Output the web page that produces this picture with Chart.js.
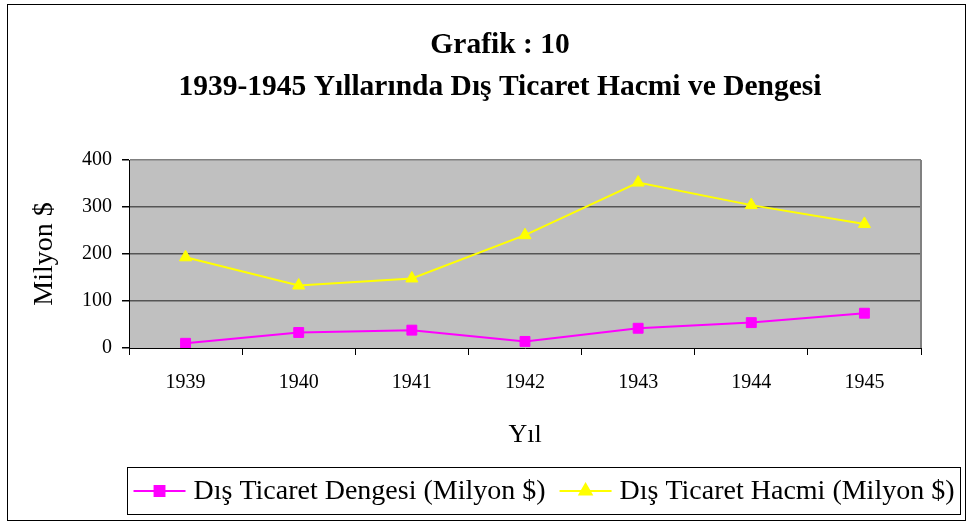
<!DOCTYPE html>
<html>
<head>
<meta charset="utf-8">
<script src="https://cdn.jsdelivr.net/npm/chart.js@4/dist/chart.umd.min.js"></script>
<style>
  html, body { margin: 0; padding: 0; background: #fff; }
  #grafik { display: block; }
</style>
</head>
<body>
<canvas id="grafik" width="972" height="523"></canvas>
<script>
// Veriler
const yillar = ["1939", "1940", "1941", "1942", "1943", "1944", "1945"];
const dengesi = [10, 33, 38, 14, 42, 54, 74];
const hacmi = [193, 133, 148, 240, 352, 304, 264];
const baslik = ["Grafik : 10", "1939-1945 Yıllarında Dış Ticaret Hacmi ve Dengesi"];
const etiketDengesi = "Dış Ticaret Dengesi (Milyon $)";
const etiketHacmi = "Dış Ticaret Hacmi (Milyon $)";

const SERIF = "'Liberation Serif', 'Times New Roman', serif";

// Gri arka plan + çerçeve + alt kutu içinde lejant
const cizimEklentisi = {
    id: "cizimEklentisi",
    beforeDraw(chart) {
        const { ctx, chartArea: a } = chart;
        ctx.save();
        ctx.fillStyle = "#fff";
        ctx.fillRect(0, 0, chart.width, chart.height);
        ctx.fillStyle = "#C0C0C0";
        ctx.fillRect(a.left, a.top, a.right - a.left, a.bottom - a.top);
        // dış çerçeve
        ctx.strokeStyle = "#000";
        ctx.lineWidth = 1;
        ctx.strokeRect(7.5, 4.5, 958, 516);
        ctx.restore();
    },
    beforeDatasetsDraw(chart) {
        const { ctx, chartArea: a } = chart;
        ctx.save();
        ctx.strokeStyle = "#808080";
        ctx.lineWidth = 2;
        ctx.beginPath();
        ctx.moveTo(a.right, a.top);
        ctx.lineTo(a.right, a.bottom);
        ctx.stroke();
        ctx.restore();
    },
    afterDraw(chart) {
        const ctx = chart.ctx;
        const kutu = { x: 127.5, y: 467.5, w: 833, h: 47 };
        ctx.save();
        ctx.fillStyle = "#fff";
        ctx.fillRect(kutu.x, kutu.y, kutu.w, kutu.h);
        ctx.strokeStyle = "#000";
        ctx.lineWidth = 1;
        ctx.strokeRect(kutu.x, kutu.y, kutu.w, kutu.h);

        ctx.font = "28px " + SERIF;
        ctx.textBaseline = "middle";
        const cizgi = 52, bosluk = 8, araBosluk = 14;
        const ogeler = chart.data.datasets.map(ds => ({
            ds, gen: ctx.measureText(ds.label).width
        }));
        let toplam = 0;
        ogeler.forEach((o, i) => {
            toplam += cizgi + bosluk + o.gen + (i < ogeler.length - 1 ? araBosluk : 0);
        });
        let x = kutu.x + (kutu.w - toplam) / 2;
        const y = kutu.y + kutu.h / 2;
        ogeler.forEach(o => {
            ctx.strokeStyle = o.ds.borderColor;
            ctx.lineWidth = 2;
            ctx.beginPath();
            ctx.moveTo(x, y);
            ctx.lineTo(x + cizgi, y);
            ctx.stroke();
            ctx.fillStyle = o.ds.borderColor;
            Chart.helpers.drawPoint(ctx, {
                pointStyle: o.ds.pointStyle, radius: 7, borderWidth: 1, rotation: 0
            }, x + cizgi / 2, y);
            ctx.fillStyle = "#000";
            ctx.textAlign = "left";
            ctx.fillText(o.ds.label, x + cizgi + bosluk, y + 1);
            x += cizgi + bosluk + o.gen + araBosluk;
        });
        ctx.restore();
    }
};

new Chart(document.getElementById("grafik"), {
    type: "line",
    data: {
        labels: yillar,
        datasets: [
            {
                label: etiketDengesi,
                data: dengesi,
                borderColor: "#FF00FF",
                backgroundColor: "#FF00FF",
                borderWidth: 2,
                pointStyle: "rect",
                pointRadius: 7,
                pointBorderWidth: 1,
                tension: 0
            },
            {
                label: etiketHacmi,
                data: hacmi,
                borderColor: "#FFFF00",
                backgroundColor: "#FFFF00",
                borderWidth: 2,
                pointStyle: "triangle",
                pointRadius: 7,
                pointBorderWidth: 1,
                tension: 0
            }
        ]
    },
    options: {
        responsive: false,
        animation: false,
        devicePixelRatio: 1,
        layout: { padding: { left: 28, right: 0, top: 0, bottom: 55 } },
        plugins: {
            legend: { display: false },
            tooltip: { enabled: false },
            title: {
                display: true,
                text: baslik,
                color: "#000",
                font: { family: SERIF, size: 29.5, weight: "bold", lineHeight: 42 / 29.5 },
                padding: { top: 24, bottom: 52 }
            }
        },
        scales: {
            x: {
                offset: true,
                grid: {
                    offset: true,
                    drawOnChartArea: false,
                    drawTicks: true,
                    tickLength: 7,
                    tickColor: "#000"
                },
                border: { color: "#000", width: 1 },
                ticks: {
                    color: "#000",
                    font: { family: SERIF, size: 20 },
                    padding: 16,
                    maxRotation: 0
                },
                title: {
                    display: true,
                    text: "Yıl",
                    color: "#000",
                    font: { family: SERIF, size: 26 },
                    padding: { top: 0, bottom: 17 }
                },
                afterFit(scale) { scale.height = 120; }
            },
            y: {
                min: 0,
                max: 400,
                ticks: {
                    stepSize: 100,
                    color: "#000",
                    font: { family: SERIF, size: 20 },
                    padding: 10
                },
                grid: {
                    color: c => c.tick.value === 0 ? "rgba(0,0,0,0)" : (c.tick.value === 400 ? "#808080" : "#555"),
                    lineWidth: 1.5,
                    tickLength: 7,
                    tickColor: "#000"
                },
                border: { color: "#000", width: 1 },
                title: {
                    display: true,
                    text: "Milyon $",
                    color: "#000",
                    font: { family: SERIF, size: 28 },
                    padding: { top: 0, bottom: 0 }
                },
                afterFit(scale) { scale.width = 101; }
            },
            // sağdaki boşluk için görünmez eksen
            bos: {
                position: "right",
                ticks: { display: false },
                grid: { display: false },
                border: { display: false },
                afterFit(scale) { scale.width = 51; }
            }
        }
    },
    plugins: [cizimEklentisi]
});
</script>
</body>
</html>
